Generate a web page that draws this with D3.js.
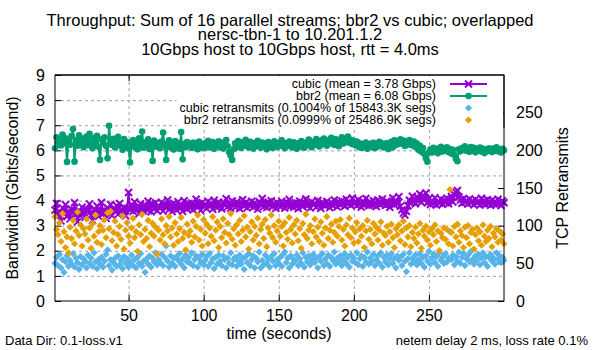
<!DOCTYPE html>
<html>
<head>
<meta charset="utf-8">
<script src="https://d3js.org/d3.v7.min.js"></script>
<style>
body { margin: 0; background: #fff; }
svg { font-family: "Liberation Sans", Arial, sans-serif; }
</style>
</head>
<body>
<div id="chart"></div>
<script>
// throughput per second (Gbps), t = 1..300
var cubic = [
3.62,3.88,3.41,3.55,3.19,3.71,3.47,3.83,3.36,3.58,
3.27,3.66,3.52,3.91,3.44,3.15,3.61,3.39,3.74,3.50,
3.33,3.68,3.57,3.86,3.42,3.21,3.64,3.49,3.78,3.37,
3.55,3.92,3.46,3.63,3.29,3.71,3.53,3.84,3.40,3.67,
3.58,3.79,3.45,3.88,3.62,3.51,3.73,3.39,3.69,4.32,
3.66,3.82,3.57,3.94,3.61,3.75,3.48,3.87,3.70,3.59,
3.81,3.64,3.97,3.72,3.55,3.86,3.68,3.91,3.60,3.77,
3.69,3.93,3.58,3.84,3.73,4.02,3.65,3.80,3.56,3.89,
3.74,3.62,3.95,3.70,3.83,3.57,3.99,3.76,3.66,3.87,
3.71,3.90,3.63,3.81,4.05,3.74,3.85,3.60,3.92,3.78,
3.84,3.69,3.96,3.77,3.88,3.65,4.01,3.79,3.72,3.93,
3.80,3.67,3.91,3.83,4.07,3.75,3.86,3.70,3.98,3.81,
3.73,3.94,3.85,3.68,3.89,4.03,3.78,3.92,3.71,3.87,
3.79,3.97,3.74,3.90,3.82,3.66,3.95,3.84,4.08,3.76,
3.88,3.72,3.93,3.81,3.99,3.77,3.86,3.69,3.91,3.83,
3.75,3.96,3.87,3.70,3.94,3.80,4.04,3.78,3.89,3.73,
3.92,3.81,3.68,3.97,3.85,3.76,3.90,4.06,3.79,3.87,
3.71,3.95,3.83,3.88,3.74,4.00,3.82,3.69,3.93,3.86,
3.78,3.96,3.84,3.72,3.91,3.80,4.02,3.87,3.75,3.94,
3.83,3.98,3.89,3.77,4.05,3.86,3.93,3.81,4.10,3.90,
3.90,3.79,4.03,3.86,3.74,3.96,3.83,4.08,3.88,3.80,
3.94,3.82,3.99,3.87,3.76,4.02,3.91,3.84,4.06,3.89,
3.81,3.97,3.86,3.73,3.92,4.10,3.83,3.98,3.88,4.15,
3.77,3.63,3.50,3.42,3.57,3.79,4.01,3.90,4.17,3.96,
3.87,4.13,4.00,4.26,3.93,4.19,4.04,4.30,3.91,4.07,
3.84,3.99,3.88,4.11,3.82,3.96,3.90,4.05,3.85,4.01,
3.92,4.09,3.87,4.03,4.16,3.94,4.23,4.33,4.40,4.14,
4.02,3.89,4.08,3.93,4.00,3.86,4.06,3.91,3.98,3.83,
4.04,3.90,3.97,3.82,4.09,3.88,3.99,3.85,4.03,3.92,
3.81,4.01,3.87,3.96,3.84,4.05,3.89,3.80,3.98,3.91
];
var bbr2 = [
6.08,6.52,6.31,6.44,6.19,6.63,6.27,6.48,5.54,6.36,
6.22,6.57,6.85,5.55,6.41,6.18,6.60,6.29,6.47,6.12,
6.39,6.55,6.20,6.66,6.33,6.08,6.49,6.25,6.58,6.14,
5.62,6.43,6.28,6.52,6.17,5.68,6.98,6.35,6.21,6.46,
6.11,6.38,6.54,6.19,6.30,6.02,6.45,6.16,6.33,6.07,
5.52,6.29,6.41,6.13,6.36,6.04,6.48,6.22,6.75,6.10,
6.32,6.18,6.44,6.05,6.27,5.58,6.39,6.14,6.30,6.21,
6.08,6.35,6.71,6.16,5.62,6.28,6.40,6.11,6.24,6.03,
6.37,6.15,6.29,6.06,6.73,5.64,6.26,6.12,6.33,6.19,
6.22,6.09,6.31,6.17,6.26,6.04,6.35,6.13,6.24,6.08,
6.29,6.15,6.38,6.11,6.20,6.33,6.06,6.27,6.18,6.36,
6.12,6.30,6.07,6.24,6.41,6.16,5.92,5.78,5.62,6.05,
6.28,6.13,6.37,6.21,6.09,6.32,6.18,6.42,6.25,6.11,
6.34,6.20,6.07,6.29,6.16,6.38,6.23,6.10,6.31,6.19,
6.26,6.04,6.33,6.15,6.27,6.09,6.36,6.22,6.13,6.30,
6.18,6.40,6.24,6.08,6.29,6.17,6.35,6.21,6.11,6.32,
6.20,6.06,6.28,6.14,6.37,6.23,6.10,6.31,6.19,6.43,
6.26,6.12,6.34,6.22,6.45,6.28,6.15,6.39,6.24,6.47,
6.30,6.18,6.41,6.27,6.50,6.33,6.21,6.44,6.29,6.16,
6.38,6.52,6.27,6.46,6.33,6.55,6.30,6.42,6.24,6.37,
6.21,6.35,6.14,6.28,6.09,6.24,6.17,6.31,6.06,6.19,
6.26,6.12,6.30,6.08,6.22,6.15,6.34,6.18,6.27,6.11,
6.16,6.29,6.05,6.23,6.34,6.12,6.40,6.21,6.37,6.25,
6.44,6.28,6.39,6.17,6.33,6.22,6.41,6.26,6.19,6.35,
6.13,6.27,6.02,6.18,5.94,6.09,5.85,5.68,5.55,5.92,
6.04,5.91,6.10,5.97,6.06,5.88,6.01,6.14,5.95,6.08,
5.99,6.12,5.93,6.05,5.87,6.02,5.81,5.66,5.57,6.04,
5.96,6.09,6.02,6.16,5.98,6.07,5.94,6.13,6.01,6.10,
5.92,6.05,5.99,6.11,5.95,6.06,5.89,6.03,5.97,6.08,
6.01,5.93,6.07,5.98,6.12,5.96,6.04,5.91,6.06,6.00
];
// retransmits per second (right axis)
var cubicRetrans = [
50,58,47,62,44,55,38,52,60,46,
54,49,63,45,57,51,42,59,48,56,
53,44,61,50,57,46,64,52,43,55,
49,58,45,53,62,68,47,55,41,51,
57,46,60,48,54,43,59,50,56,45,
52,61,47,55,44,58,50,63,46,53,
38,56,49,60,45,57,52,64,48,55,
51,62,47,58,73,53,45,60,50,57,
46,59,54,63,49,56,44,61,52,58,
50,64,47,55,60,45,57,51,62,48,
54,59,46,63,51,56,43,58,49,61,
53,47,60,55,44,57,50,64,48,55,
58,46,53,61,49,56,42,59,51,63,
47,55,60,44,57,52,65,44,54,48,
61,50,56,45,59,53,63,47,55,50,
58,46,62,65,51,57,44,60,49,55,
53,61,47,56,50,64,45,58,52,60,
48,55,62,51,57,44,59,53,63,47,
56,50,61,46,58,54,65,49,57,52,
60,47,55,63,50,58,45,61,53,57,
51,64,48,56,60,46,58,52,65,49,
57,53,62,47,55,60,50,64,45,58,
52,61,48,56,63,50,57,44,60,54,
58,47,62,53,39,56,64,49,57,52,
61,48,55,63,50,58,45,60,53,66,
49,57,62,51,59,46,64,54,58,50,
63,52,57,92,55,61,48,59,53,65,
50,58,63,47,56,61,52,66,55,49,
60,54,62,48,57,64,51,59,46,58,
62,53,57,49,64,55,60,51,58,54
];
var bbr2Retrans = [
112,95,88,104,79,116,92,71,85,64,
98,83,107,76,93,118,87,101,73,96,
89,109,81,97,70,103,86,114,78,92,
100,75,94,108,84,117,96,119,80,91,
106,73,88,99,82,113,69,94,104,86,
77,97,110,84,92,66,101,88,115,79,
95,83,107,72,90,103,86,98,62,94,
81,109,88,76,100,93,112,85,97,74,
104,89,79,96,111,83,91,68,102,87,
93,78,106,85,99,114,81,95,73,108,
90,102,76,97,86,112,80,94,105,71,
99,84,109,91,77,103,88,116,82,96,
74,101,89,107,79,94,113,85,98,69,
92,105,81,99,87,110,76,95,102,83,
108,72,97,90,114,84,100,78,93,106,
86,99,73,104,91,82,111,95,77,101,
89,107,80,96,70,103,88,115,83,94,
100,76,92,109,85,98,79,105,90,74,
97,112,83,94,102,78,91,106,86,99,
108,81,95,73,101,88,110,84,97,77,
92,104,79,96,86,100,71,93,107,82,
95,76,103,89,98,81,94,105,74,90,
87,99,78,92,102,84,71,96,88,101,
80,93,106,75,97,85,100,72,91,83,
98,77,89,103,70,94,86,99,81,92,
74,96,88,101,79,93,67,90,84,97,
82,95,76,148,91,73,99,85,102,78,
93,87,71,98,84,100,76,91,95,69,
88,97,80,92,74,101,86,79,94,83,
99,72,90,85,96,78,93,81,89,76
];
var xTicks = [50, 100, 150, 200, 250];
var yTicks = [0, 1, 2, 3, 4, 5, 6, 7, 8, 9];
var y2Ticks = [0, 50, 100, 150, 200, 250];
var titleLines = [
  "Throughput: Sum of 16 parallel streams; bbr2 vs cubic; overlapped",
  "nersc-tbn-1 to 10.201.1.2",
  "10Gbps host to 10Gbps host, rtt = 4.0ms"
];
var legendLabels = [
  "cubic (mean = 3.78 Gbps)",
  "bbr2 (mean = 6.08 Gbps)",
  "cubic retransmits (0.1004% of 15843.3K segs)",
  "bbr2 retransmits (0.0999% of 25486.9K segs)"
];

var W = 600, H = 350;
var pL = 55, pR = 504, pT = 75, pB = 301;
var purple = "#9400d3", green = "#009e73", blue = "#56b4e9", orange = "#e69f00";

var svg = d3.select("#chart").append("svg").attr("width", W).attr("height", H);

var times = d3.range(1, cubic.length + 1);
var x = d3.scaleLinear().domain([1, 300]).range([pL, pR]);
var y = d3.scaleLinear().domain([0, 9]).range([pB, pT]);
var y2 = d3.scaleLinear().domain([0, 300]).range([pB, pT]);

// grid
svg.append("g").attr("transform", "translate(" + pL + ",0)")
  .call(d3.axisLeft(y).tickValues(yTicks.slice(1, -1)).tickSize(-(pR - pL)).tickFormat(""))
  .call(function(g) { g.select(".domain").remove(); })
  .selectAll("line").attr("stroke", "#a0a0a0").attr("stroke-dasharray", "3,3");
svg.append("g").attr("transform", "translate(0," + pB + ")")
  .call(d3.axisBottom(x).tickValues(xTicks).tickSize(-(pB - pT)).tickFormat(""))
  .call(function(g) { g.select(".domain").remove(); })
  .selectAll("line").attr("stroke", "#a0a0a0").attr("stroke-dasharray", "3,3");

// axes (ticks inward)
function styleAxis(g) {
  g.select(".domain").remove();
  g.selectAll("text").attr("font-size", 16).attr("font-family", "Liberation Sans, Arial, sans-serif").attr("fill", "#000");
  g.selectAll("line").attr("stroke", "#000");
}
svg.append("g").attr("transform", "translate(" + pL + ",0)")
  .call(d3.axisLeft(y).tickValues(yTicks).tickSizeInner(-6).tickSizeOuter(0).tickPadding(10).tickFormat(d3.format("d")))
  .call(styleAxis);
svg.append("g").attr("transform", "translate(" + pR + ",0)")
  .call(d3.axisRight(y2).tickValues(y2Ticks).tickSizeInner(-6).tickSizeOuter(0).tickPadding(12).tickFormat(d3.format("d")))
  .call(styleAxis);
svg.append("g").attr("transform", "translate(0," + pB + ")")
  .call(d3.axisBottom(x).tickValues(xTicks).tickSizeInner(-6).tickSizeOuter(0).tickPadding(9))
  .call(styleAxis);
svg.append("g").attr("transform", "translate(0," + pT + ")")
  .call(d3.axisTop(x).tickValues(xTicks).tickSizeInner(-6).tickSizeOuter(0).tickFormat(""))
  .call(styleAxis);

// series
var line = d3.line().x(function(d, i) { return x(times[i]); }).y(function(d) { return y(d); });
var xMark = "M-3.5,-3.5L3.5,3.5M-3.5,3.5L3.5,-3.5";
var diamond = "M0,-3.6L3.6,0L0,3.6L-3.6,0Z";

svg.append("path").datum(cubic).attr("d", line)
  .attr("fill", "none").attr("stroke", purple).attr("stroke-width", 2);
svg.append("g").selectAll("path").data(cubic).join("path")
  .attr("transform", function(d, i) { return "translate(" + x(times[i]) + "," + y(d) + ")"; })
  .attr("d", xMark).attr("stroke", purple).attr("stroke-width", 2).attr("fill", "none");

svg.append("path").datum(bbr2).attr("d", line)
  .attr("fill", "none").attr("stroke", green).attr("stroke-width", 2);
svg.append("g").selectAll("circle").data(bbr2).join("circle")
  .attr("cx", function(d, i) { return x(times[i]); }).attr("cy", function(d) { return y(d); })
  .attr("r", 3.3).attr("fill", green);

svg.append("g").selectAll("path").data(cubicRetrans).join("path")
  .attr("transform", function(d, i) { return "translate(" + x(times[i]) + "," + y2(d) + ")"; })
  .attr("d", diamond).attr("fill", blue);
svg.append("g").selectAll("path").data(bbr2Retrans).join("path")
  .attr("transform", function(d, i) { return "translate(" + x(times[i]) + "," + y2(d) + ")"; })
  .attr("d", diamond).attr("fill", orange);

// border
svg.append("rect").attr("x", pL).attr("y", pT).attr("width", pR - pL).attr("height", pB - pT)
  .attr("fill", "none").attr("stroke", "#000").attr("stroke-width", 1);

// legend (opaque)
var legX = 436, legRows = [84, 96, 108, 120];
var leg = svg.append("g");
var legBg = leg.append("rect").attr("fill", "#fff");
var legText = leg.selectAll("text").data(legendLabels).join("text")
  .attr("x", legX).attr("y", function(d, i) { return legRows[i]; }).attr("dy", "0.35em")
  .attr("text-anchor", "end").attr("font-size", 12.5).text(function(d) { return d; });
var maxW = d3.max(legText.nodes(), function(n) { return n.getComputedTextLength(); });
legBg.attr("x", legX - maxW - 3).attr("y", pT + 1).attr("width", pR - 1 - (legX - maxW - 3)).attr("height", 51);
leg.append("line").attr("x1", 450).attr("x2", 487).attr("y1", legRows[0]).attr("y2", legRows[0]).attr("stroke", purple).attr("stroke-width", 2);
leg.append("path").attr("transform", "translate(468.5," + legRows[0] + ")").attr("d", xMark).attr("stroke", purple).attr("stroke-width", 2);
leg.append("line").attr("x1", 450).attr("x2", 487).attr("y1", legRows[1]).attr("y2", legRows[1]).attr("stroke", green).attr("stroke-width", 2);
leg.append("circle").attr("cx", 468.5).attr("cy", legRows[1]).attr("r", 3.3).attr("fill", green);
leg.append("path").attr("transform", "translate(468.5," + legRows[2] + ")").attr("d", diamond).attr("fill", blue);
leg.append("path").attr("transform", "translate(468.5," + legRows[3] + ")").attr("d", diamond).attr("fill", orange);
svg.append("line").attr("x1", pL).attr("x2", pR).attr("y1", pT).attr("y2", pT).attr("stroke", "#000");
svg.append("line").attr("x1", pR).attr("x2", pR).attr("y1", pT).attr("y2", pT + 53).attr("stroke", "#000");

// titles
svg.append("g").selectAll("text").data(titleLines).join("text")
  .attr("x", 290).attr("y", function(d, i) { return 25.5 + i * 14.5; })
  .attr("text-anchor", "middle").attr("font-size", 16.5).text(function(d) { return d; });
svg.append("text").attr("transform", "translate(18,188) rotate(-90)")
  .attr("text-anchor", "middle").attr("font-size", 16).text("Bandwidth (Gbits/second)");
svg.append("text").attr("transform", "translate(568,188) rotate(-90)")
  .attr("text-anchor", "middle").attr("font-size", 16).text("TCP Retransmits");
svg.append("text").attr("x", 279).attr("y", 339)
  .attr("text-anchor", "middle").attr("font-size", 16).text("time (seconds)");
svg.append("text").attr("x", 5).attr("y", 345).attr("font-size", 13).text("Data Dir: 0.1-loss.v1");
svg.append("text").attr("x", 588).attr("y", 345).attr("text-anchor", "end").attr("font-size", 13)
  .text("netem delay 2 ms, loss rate 0.1%");
</script>
</body>
</html>
